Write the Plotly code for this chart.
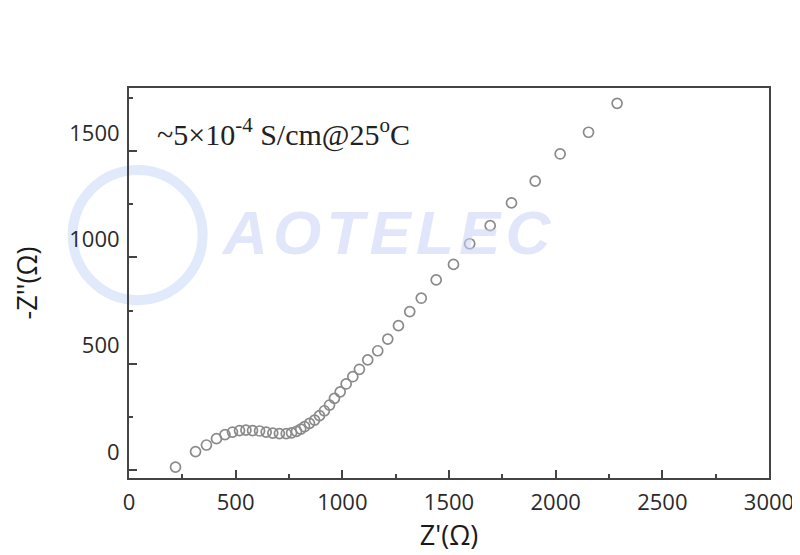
import plotly.graph_objects as go

# Nyquist data (Ohm)
z_real = [218, 312, 363, 410, 450, 485, 518, 548, 579, 612, 643, 674, 705, 737, 762, 785,
          805, 823, 846, 870, 893, 916, 940, 963, 990, 1018, 1049, 1080, 1119, 1166, 1213,
          1263, 1316, 1370, 1440, 1521, 1597, 1693, 1793, 1904, 2021, 2154, 2288]
z_imag_neg = [-71, 2, 33, 63, 82, 94, 101, 103, 101, 99, 94, 89, 87, 87, 90, 97,
              108, 119, 135, 150, 171, 194, 221, 252, 283, 320, 354, 389, 433, 476, 531,
              594, 660, 723, 809, 882, 979, 1064, 1171, 1273, 1401, 1503, 1639]

x_ticks = [0, 500, 1000, 1500, 2000, 2500, 3000]
x_ticktext = ["0", "500", "1000", "1500", "2000", "2500", "3000"]
y_tick_marks = [-85, 415, 915, 1415]
y_ticktext = ["0", "500", "1000", "1500"]

annotation_text = "~5×10<sup>-4</sup> S/cm@25<sup>o</sup>C"
watermark = "A\u200aO\u200aT\u200aE\u200aL\u200aE\u200aC"

fig = go.Figure()
fig.add_trace(go.Scatter(
    x=z_real, y=z_imag_neg, mode="markers",
    marker=dict(symbol="circle-open", size=10, color="#8a8a8a", line=dict(width=1.7)),
    showlegend=False,
))

axis_font = dict(family="Open Sans, sans-serif", size=22, color="#2a2a2a")

fig.update_layout(
    width=792, height=547,
    margin=dict(l=121, r=31, t=80, b=77),
    paper_bgcolor="white", plot_bgcolor="white",
    xaxis=dict(
        range=[0, 3000], tickvals=x_ticks, ticktext=x_ticktext, automargin=False,
        ticks="inside", ticklen=8, tickwidth=1.5, tickcolor="#444",
        minor=dict(dtick=250, tick0=0, ticks="inside", ticklen=4, tickwidth=1.5, tickcolor="#444"),
        showline=True, linecolor="#444", linewidth=2, mirror=True,
        showgrid=False, zeroline=False,
        tickfont=axis_font, ticklabelstandoff=4,
        title=dict(text="Z'(Ω)", font=dict(family="Open Sans, sans-serif", size=27, color="#1a1a1a"), standoff=0),
    ),
    yaxis=dict(
        range=[-122, 1711], tickvals=y_tick_marks, ticktext=y_ticktext, automargin=False,
        ticks="inside", ticklen=8, tickwidth=1.5, tickcolor="#444",
        minor=dict(tickvals=[165, 665, 1165, 1665], ticks="inside", ticklen=4, tickwidth=1.5, tickcolor="#444"),
        showline=True, linecolor="#444", linewidth=2, mirror=True,
        showgrid=False, zeroline=False,
        tickfont=axis_font, ticklabelshift=-18, ticklabelstandoff=3,
        title=dict(text="-Z''(Ω)", font=dict(family="Open Sans, sans-serif", size=27, color="#1a1a1a"), standoff=31),
    ),
    shapes=[dict(type="circle", xref="paper", yref="paper", x0=-0.088, x1=0.115, y0=0.456, y1=0.79,
                 line=dict(color="rgba(170,195,240,0.35)", width=10), layer="below")],
    annotations=[
        dict(text=annotation_text, xref="paper", yref="paper", x=0.04, y=0.885,
             xanchor="left", yanchor="middle", showarrow=False,
             font=dict(family="Liberation Serif, Times New Roman, serif", size=30, color="#222")),
        dict(text="<b><i>" + watermark + "</i></b>", xref="paper", yref="paper", x=0.403, y=0.63,
             xanchor="center", yanchor="middle", showarrow=False,
             font=dict(family="Liberation Sans, Arial, sans-serif", size=62, color="rgba(200,210,245,0.55)")),
    ],
)

fig.write_html("out.html")
